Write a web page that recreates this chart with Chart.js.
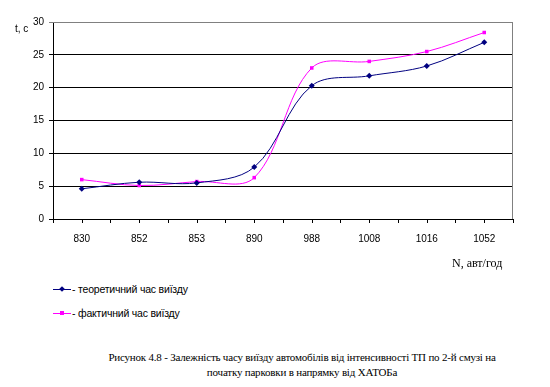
<!DOCTYPE html>
<html>
<head>
<meta charset="utf-8">
<script src="https://cdn.jsdelivr.net/npm/chart.js@4.4.0/dist/chart.umd.min.js"></script>
<style>
    body { margin: 0; background: #fff; }
    #wrap { position: relative; width: 550px; height: 387px; overflow: hidden; font-family: "Liberation Sans", Arial, sans-serif; color: #000; }
    #grafico { position: absolute; left: 0; top: 0; }
    .txt { position: absolute; white-space: nowrap; line-height: 1; }
    .serif { font-family: "Liberation Serif", "Times New Roman", serif; }
    .leg { position: absolute; left: 53px; height: 12px; font-size: 10.5px; letter-spacing: -0.2px; white-space: nowrap; }
    .leg .ln { position: absolute; left: 0; top: 6px; width: 18px; height: 0; border-top: 1px solid; }
    .leg .mk { position: absolute; left: 7px; top: 4px; width: 4px; height: 4px; }
    .leg .tx { position: absolute; left: 19px; top: 0; }
</style>
</head>
<body>
<div id="wrap">
    <canvas id="grafico" width="550" height="260"></canvas>
    <div class="txt" style="left:15px; top:24px; font-size:10px;">t, c</div>
    <div class="txt serif" style="left:452px; top:257px; font-size:12px;">N, авт/год</div>

    <div class="leg" style="top:283px;">
        <span class="ln" style="border-color:#000080;"></span>
        <span class="mk" style="background:#000080; transform:rotate(45deg);"></span>
        <span class="tx">- теоретичний час виїзду</span>
    </div>
    <div class="leg" style="top:307px;">
        <span class="ln" style="border-color:#ff00ff;"></span>
        <span class="mk" style="background:#ff00ff;"></span>
        <span class="tx">- фактичний час виїзду</span>
    </div>

    <div class="txt serif" style="left:52px; width:500px; top:350px; font-size:11px; letter-spacing:-0.2px; text-align:center; line-height:15px;">
        Рисунок 4.8 - Залежність часу виїзду автомобілів від інтенсивності ТП по 2-й смузі на<br>
        початку парковки в напрямку від ХАТОБа
    </div>
</div>

<script>
// Дані з графіка
const categorias = ["830", "852", "853", "890", "988", "1008", "1016", "1052"];
const teoretichnyi = [4.6, 5.6, 5.5, 7.9, 20.3, 21.8, 23.3, 26.9];
const faktychnyi = [6.0, 5.1, 5.7, 6.3, 23.0, 24.0, 25.5, 28.4];
const yTicks = [0, 5, 10, 15, 20, 25, 30];

// Рамка області та проміжні штрихи осі X
const ramka = {
    id: "ramka",
    afterDraw(chart) {
        const { ctx, chartArea: a } = chart;
        const x = chart.scales.x;
        ctx.save();
        ctx.strokeStyle = "#808080";
        ctx.lineWidth = 1;
        ctx.beginPath();
        ctx.moveTo(a.left, a.top + 0.5);
        ctx.lineTo(a.right - 0.5, a.top + 0.5);
        ctx.lineTo(a.right - 0.5, a.bottom);
        ctx.stroke();
        ctx.strokeStyle = "#000";
        ctx.beginPath();
        categorias.forEach((c, i) => {
            const px = Math.round(x.getPixelForValue(i)) + 0.5;
            ctx.moveTo(px, a.bottom);
            ctx.lineTo(px, a.bottom + 4);
        });
        ctx.stroke();
        ctx.restore();
    }
};

new Chart(document.getElementById("grafico"), {
    type: "line",
    data: {
        labels: categorias,
        datasets: [{
            label: "- теоретичний час виїзду",
            data: teoretichnyi,
            borderColor: "#000080",
            backgroundColor: "#000080",
            borderWidth: 1,
            pointStyle: "rectRot",
            pointRadius: 3,
            pointBorderWidth: 0,
            tension: 0.35,
            fill: false,
        }, {
            label: "- фактичний час виїзду",
            data: faktychnyi,
            borderColor: "#ff00ff",
            backgroundColor: "#ff00ff",
            borderWidth: 1,
            pointStyle: "rect",
            pointRadius: 2.5,
            pointBorderWidth: 0,
            tension: 0.35,
            fill: false,
        }],
    },
    options: {
        responsive: false,
        animation: false,
        layout: { padding: { top: 22, right: 37, bottom: 0, left: 0 } },
        plugins: {
            legend: { display: false },
            tooltip: { enabled: false },
        },
        scales: {
            x: {
                offset: true,
                afterFit(scale) { scale.height = 41; },
                grid: { offset: true, drawOnChartArea: false, tickLength: 4, color: "#000" },
                border: { color: "#000" },
                ticks: { color: "#000", font: { family: "Liberation Sans", size: 10 }, padding: 10, maxRotation: 0 },
            },
            y: {
                min: 0,
                max: 30,
                afterFit(scale) { scale.width = 53; },
                afterBuildTicks(scale) { scale.ticks = yTicks.map(v => ({ value: v })); },
                grid: {
                    tickLength: 4,
                    color: (c) => (c.tick && c.tick.value === 30 ? "#808080" : "#000"),
                },
                border: { color: "#000" },
                ticks: { color: "#000", font: { family: "Liberation Sans", size: 10 }, padding: 5 },
            },
        },
    },
    plugins: [ramka],
});
</script>
</body>
</html>
